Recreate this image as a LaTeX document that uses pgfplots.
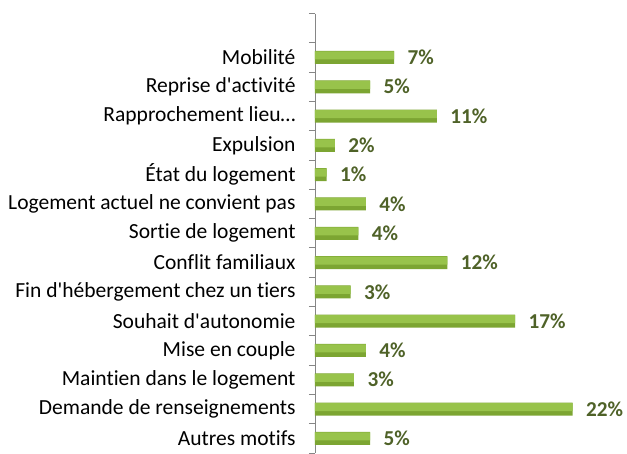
\documentclass[border=0pt]{standalone}
\usepackage{pgfplots}
\pgfplotsset{compat=1.18}
\usepackage{fontspec}
\setmainfont{Carlito}[Ligatures={NoCommon}]
\usetikzlibrary{calc}
\definecolor{barlight}{HTML}{98C34B}
\definecolor{bardark}{HTML}{7CA532}
\definecolor{labg}{HTML}{4F6228}
\definecolor{axg}{HTML}{868686}
\pgfplotstableread{
val row lab
6.75 0 7\%
4.7 1 5\%
10.4 2 11\%
1.7 3 2\%
1.0 4 1\%
4.35 5 4\%
3.7 6 4\%
11.3 7 12\%
3.05 8 3\%
17.1 9 17\%
4.35 10 4\%
3.33 11 3\%
22.0 12 22\%
4.7 13 5\%
}\datatab
\begin{document}
\begin{tikzpicture}
\begin{axis}[
  name=ax,
  scale only axis,
  width=281bp, height=439.5bp,
  xbar,
  xmin=0, xmax=24,
  ymin=-1.5, ymax=13.5,
  y dir=reverse,
  clip=false,
  axis x line=none,
  axis y line*=left,
  y axis line style={axg, line width=0.9pt, -},
  ytick={0,...,13},
  yticklabels={Mobilité,Reprise d\textquotesingle activité,Rapprochement lieu…,Expulsion,État du logement,Logement actuel ne convient pas,Sortie de logement,Conflit familiaux,Fin d\textquotesingle hébergement chez un tiers,Souhait d\textquotesingle autonomie,Mise en couple,Maintien dans le logement,Demande de renseignements,Autres motifs},
  major tick length=0pt,
  minor ytick={-1.5,-0.5,...,13.5},
  minor tick length=6bp,
  tick align=outside,
  minor tick style={axg, line width=0.9pt},
  yticklabel style={font=\fontsize{21.6}{24}\selectfont, text=black, xshift=-16bp},
]
\addplot[draw=none, fill=bardark, bar width=13bp, bar shift=0pt,
  point meta=explicit symbolic, nodes near coords,
  every node near coord/.append style={font=\fontsize{21.3}{24}\selectfont\bfseries, text=labg, anchor=west, xshift=10bp}]
  table[x=val, y=row, meta=lab] {\datatab};
\addplot[draw=none, fill=barlight, bar width=8bp, bar shift=2bp]
  table[x=val, y=row] {\datatab};
\end{axis}
\path[use as bounding box] ($(ax.south west)+(-315bp,3bp)$) rectangle ($(ax.south west)+(312bp,453bp)$);
\end{tikzpicture}
\end{document}
